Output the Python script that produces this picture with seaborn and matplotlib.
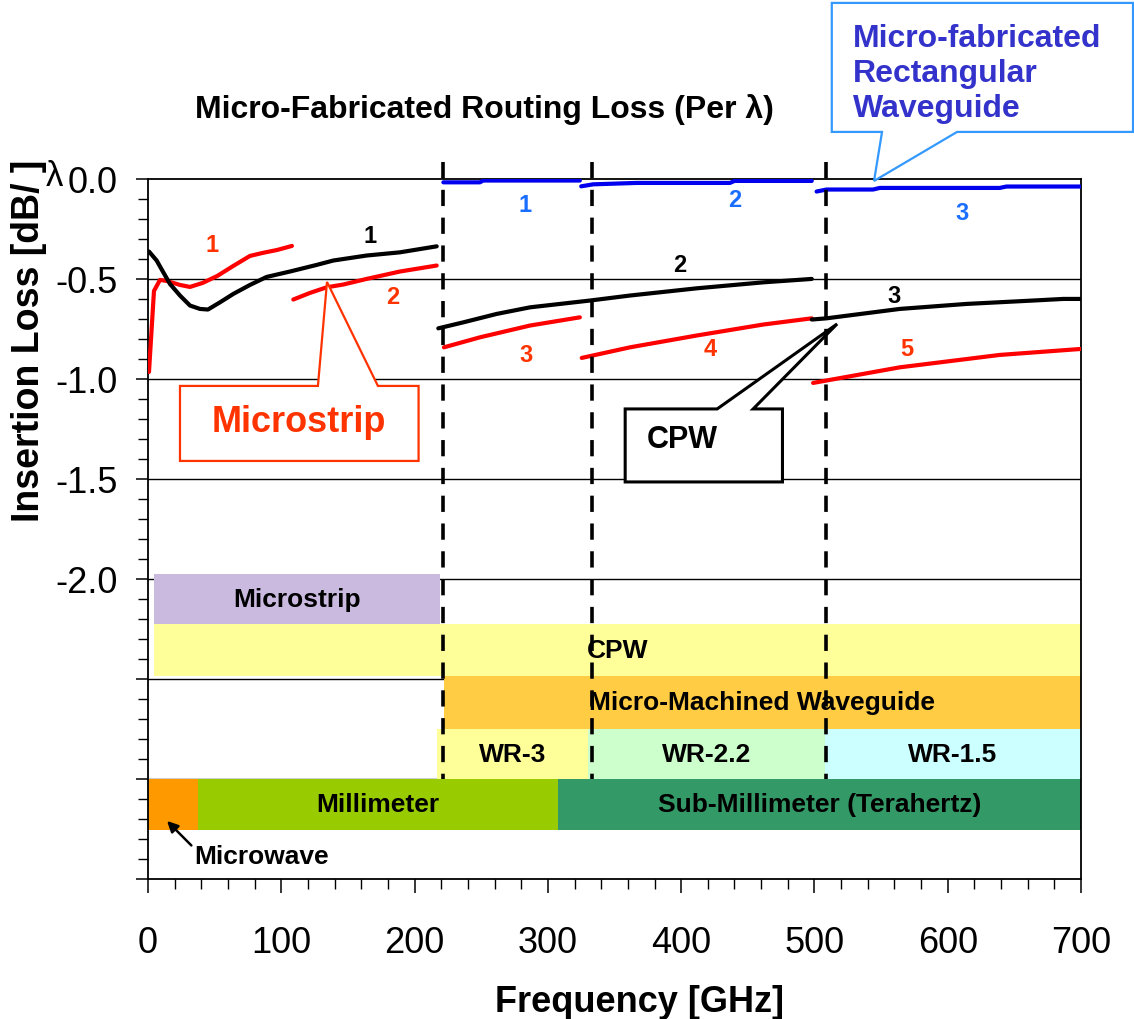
import numpy as np
import pandas as pd
import matplotlib
matplotlib.use("Agg")
import matplotlib.pyplot as plt
import seaborn as sns
from matplotlib.patches import Rectangle, Polygon
from matplotlib.ticker import MultipleLocator, FixedLocator, FixedFormatter

# === Curves (frequency in GHz, loss in dB/lambda) ===
ms1_f = [0.75, 4.5, 9, 14, 24, 31.5, 41, 52, 64, 76.5, 86, 97, 108]
ms1_loss = [-0.965, -0.56, -0.505, -0.51, -0.53, -0.54, -0.52, -0.485, -0.435, -0.385, -0.37, -0.355, -0.335]
ms2_f = [109, 121.5, 134, 146.5, 164, 189, 216.6]
ms2_loss = [-0.603, -0.57, -0.542, -0.528, -0.5, -0.463, -0.433]
ms3_f = [222, 249, 286.6, 324]
ms3_loss = [-0.842, -0.792, -0.733, -0.692]
ms4_f = [325.4, 361.6, 411.6, 461.6, 498]
ms4_loss = [-0.895, -0.842, -0.783, -0.728, -0.697]
ms5_f = [499, 564, 639, 700]
ms5_loss = [-1.02, -0.942, -0.88, -0.85]

cpw1_f = [0.75, 6.5, 11.5, 16.5, 24, 31.5, 39, 45, 54, 64, 76.5, 89, 106.5, 126.5, 139, 164, 189, 216.6]
cpw1_loss = [-0.363, -0.408, -0.467, -0.525, -0.583, -0.633, -0.65, -0.653, -0.617, -0.575, -0.53,
             -0.49, -0.463, -0.43, -0.408, -0.383, -0.367, -0.337]
cpw2_f = [217.8, 236.6, 261.6, 286.6, 331.6, 361.6, 411.6, 461.6, 498]
cpw2_loss = [-0.747, -0.717, -0.675, -0.642, -0.608, -0.583, -0.547, -0.517, -0.5]
cpw3_f = [498, 509, 564, 614, 664, 686.7, 700]
cpw3_loss = [-0.703, -0.697, -0.65, -0.625, -0.608, -0.6, -0.6]

rwg1_f = [221.6, 249, 251.5, 324]
rwg1_loss = [-0.017, -0.017, -0.008, -0.008]
rwg2_f = [325, 334, 366.6, 436.6, 440, 498]
rwg2_loss = [-0.037, -0.027, -0.02, -0.02, -0.01, -0.01]
rwg3_f = [501.6, 509, 544, 549, 639, 644, 700]
rwg3_loss = [-0.063, -0.053, -0.053, -0.045, -0.045, -0.038, -0.038]

# === Frequency bands shown as bars under the curves ===
band_names = ["Microstrip", "CPW", "Micro-Machined Waveguide", "WR-3", "WR-2.2", "WR-1.5",
              "", "Millimeter", "Sub-Millimeter (Terahertz)"]
band_start = [4.5, 4.5, 222, 217, 330, 508, 0, 37.5, 307.5]
band_end = [219, 700, 700, 330, 508, 700, 37.5, 307.5, 700]
band_row = [0, 1, 2, 3, 3, 3, 4, 4, 4]
band_colors = ["#CBBAE0", "#FFFF99", "#FFCC44", "#FFFF99", "#CCFFCC", "#CCFFFF",
               "#FF9900", "#99CC00", "#339966"]
row_edges = [-1.975, -2.225, -2.485, -2.75, -3.0, -3.255]

# waveguide band edges (dashed)
edges_f = [221, 333, 509]

curves = {
    "ms1": (ms1_f, ms1_loss), "ms2": (ms2_f, ms2_loss), "ms3": (ms3_f, ms3_loss),
    "ms4": (ms4_f, ms4_loss), "ms5": (ms5_f, ms5_loss),
    "cpw1": (cpw1_f, cpw1_loss), "cpw2": (cpw2_f, cpw2_loss), "cpw3": (cpw3_f, cpw3_loss),
    "rwg1": (rwg1_f, rwg1_loss), "rwg2": (rwg2_f, rwg2_loss), "rwg3": (rwg3_f, rwg3_loss),
}
df = pd.concat([pd.DataFrame({"Frequency": f, "Loss": l, "Curve": k})
                for k, (f, l) in curves.items()], ignore_index=True)
palette = {k: ("#FF0000" if k.startswith("ms") else "#000000" if k.startswith("cpw") else "#0000EE")
           for k in curves}

sns.set_style("ticks")
plt.rcParams["font.family"] = ["Liberation Sans", "DejaVu Sans"]
plt.rcParams["axes.unicode_minus"] = False
plt.rcParams.update({"text.color": "black", "axes.labelcolor": "black",
                     "xtick.color": "black", "ytick.color": "black"})

fig = plt.figure(figsize=(11.34, 10.2), dpi=100)
ax = fig.add_axes([0.1305, 0.1373, 0.8228, 0.6863])

sns.lineplot(data=df, x="Frequency", y="Loss", hue="Curve", units="Curve", estimator=None,
             palette=palette, linewidth=3, legend=False, ax=ax, zorder=3)

ax.set_xlim(0, 700)
ax.set_ylim(-3.5, 0)

# grid (under the bands)
for y in np.arange(-3.0, 0, 0.5):
    ax.axhline(y, color="black", lw=1.0, zorder=0.5)

# bands
for name, x0, x1, r, c in zip(band_names, band_start, band_end, band_row, band_colors):
    y0, y1 = row_edges[r + 1], row_edges[r]
    ax.add_patch(Rectangle((x0, y0), x1 - x0, y1 - y0, facecolor=c, edgecolor="none", zorder=1))
    if name:
        ax.text((x0 + x1) / 2, (y0 + y1) / 2, name, ha="center", va="center",
                fontsize=19, fontweight="bold", zorder=2)

# dashed edges
for xf in edges_f:
    ax.plot([xf, xf], [0.085, -3.0], color="black", lw=2.6, dashes=(4.5, 3.2),
            zorder=7, clip_on=False)

# curve numbers
num_labels = [
    (48, -0.33, "1", "#FF3300"), (184, -0.59, "2", "#FF3300"), (284, -0.88, "3", "#FF3300"),
    (421.5, -0.85, "4", "#FF3300"), (569, -0.85, "5", "#FF3300"),
    (166.5, -0.285, "1", "black"), (399, -0.43, "2", "black"), (560, -0.585, "3", "black"),
    (283, -0.13, "1", "#1A6EFF"), (440, -0.105, "2", "#1A6EFF"), (611, -0.17, "3", "#1A6EFF"),
]
for xx, yy, s, c in num_labels:
    ax.text(xx, yy, s, color=c, fontsize=17, fontweight="bold", ha="center", va="center", zorder=4)


# callouts: box with a wedge from the stem edge to the tip
def callout(box, stems, tip, edge, lw=1.6, stem_side="top"):
    x0, x1, ytop, ybot = box
    s0, s1 = stems
    if stem_side == "top":
        pts = [(x0, ytop), (s0, ytop), tip, (s1, ytop), (x1, ytop), (x1, ybot), (x0, ybot)]
    else:
        pts = [(x0, ytop), (x1, ytop), (x1, ybot), (s1, ybot), tip, (s0, ybot), (x0, ybot)]
    ax.add_patch(Polygon(pts, closed=True, facecolor="white", edgecolor=edge, lw=lw,
                         zorder=5, clip_on=False))


callout((24, 203, -1.035, -1.41), (127.5, 172.5), (134.3, -0.515), "#FF3300")
ax.text(113, -1.215, "Microstrip", color="#FF3300", fontsize=26, fontweight="bold",
        ha="center", va="center", zorder=6)

callout((358, 476, -1.15, -1.515), (427, 454), (517, -0.725), "black", lw=2.2)
ax.text(400.6, -1.3, "CPW", color="black", fontsize=22, fontweight="bold",
        ha="center", va="center", zorder=6)

callout((513, 739, 0.88, 0.235), (550.7, 607), (544.7, -0.01), "#3399FF", lw=1.6,
        stem_side="bottom")
ax.text(529, 0.53, "Micro-fabricated\nRectangular\nWaveguide", color="#3333CC", fontsize=23,
        fontweight="bold", ha="left", va="center", linespacing=1.2, zorder=6, clip_on=False)

# microwave arrow
ax.annotate("Microwave", xy=(14.3, -3.21), xytext=(35, -3.385), fontsize=19, fontweight="bold",
            ha="left", va="center",
            arrowprops=dict(arrowstyle="-|>", color="black", lw=1.8, mutation_scale=16,
                            shrinkA=0, shrinkB=0, relpos=(0, 0.8)),
            zorder=6)

# ticks and axes
ax.yaxis.set_major_locator(FixedLocator(np.arange(0, -3.51, -0.5)))
ax.yaxis.set_major_formatter(FixedFormatter(["0.0", "-0.5", "-1.0", "-1.5", "-2.0", "", "", ""]))
ax.yaxis.set_minor_locator(MultipleLocator(0.1))
ax.xaxis.set_major_locator(MultipleLocator(100))
ax.xaxis.set_minor_locator(MultipleLocator(20))
ax.tick_params(axis="y", which="major", direction="out", length=8.6, width=1.1, labelsize=26, pad=13)
ax.tick_params(axis="y", which="minor", direction="out", length=7.5, width=1.0)
ax.tick_params(axis="x", which="major", direction="out", length=10, width=1.1, labelsize=26, pad=23)
ax.tick_params(axis="x", which="minor", direction="out", length=7, width=1.0)
for sp in ax.spines.values():
    sp.set_visible(True)
    sp.set_linewidth(1.3)
    sp.set_color("black")

ax.set_xlabel("Frequency [GHz]", fontsize=26, fontweight="bold")
ax.xaxis.set_label_coords(0.527, -0.15)
ax.set_ylabel("Insertion Loss [dB/ ]", fontsize=27, fontweight="bold")
ax.yaxis.set_label_coords(-0.108, 0.77)
fig.text(54 / 1134, 1 - 177 / 1020, "λ", fontsize=25, ha="center", va="center")

fig.text(484 / 1134, 1 - 110 / 1020, "Micro-Fabricated Routing Loss (Per λ)", fontsize=23,
         fontweight="bold", ha="center", va="center")

fig.savefig("out.png", dpi=100)
